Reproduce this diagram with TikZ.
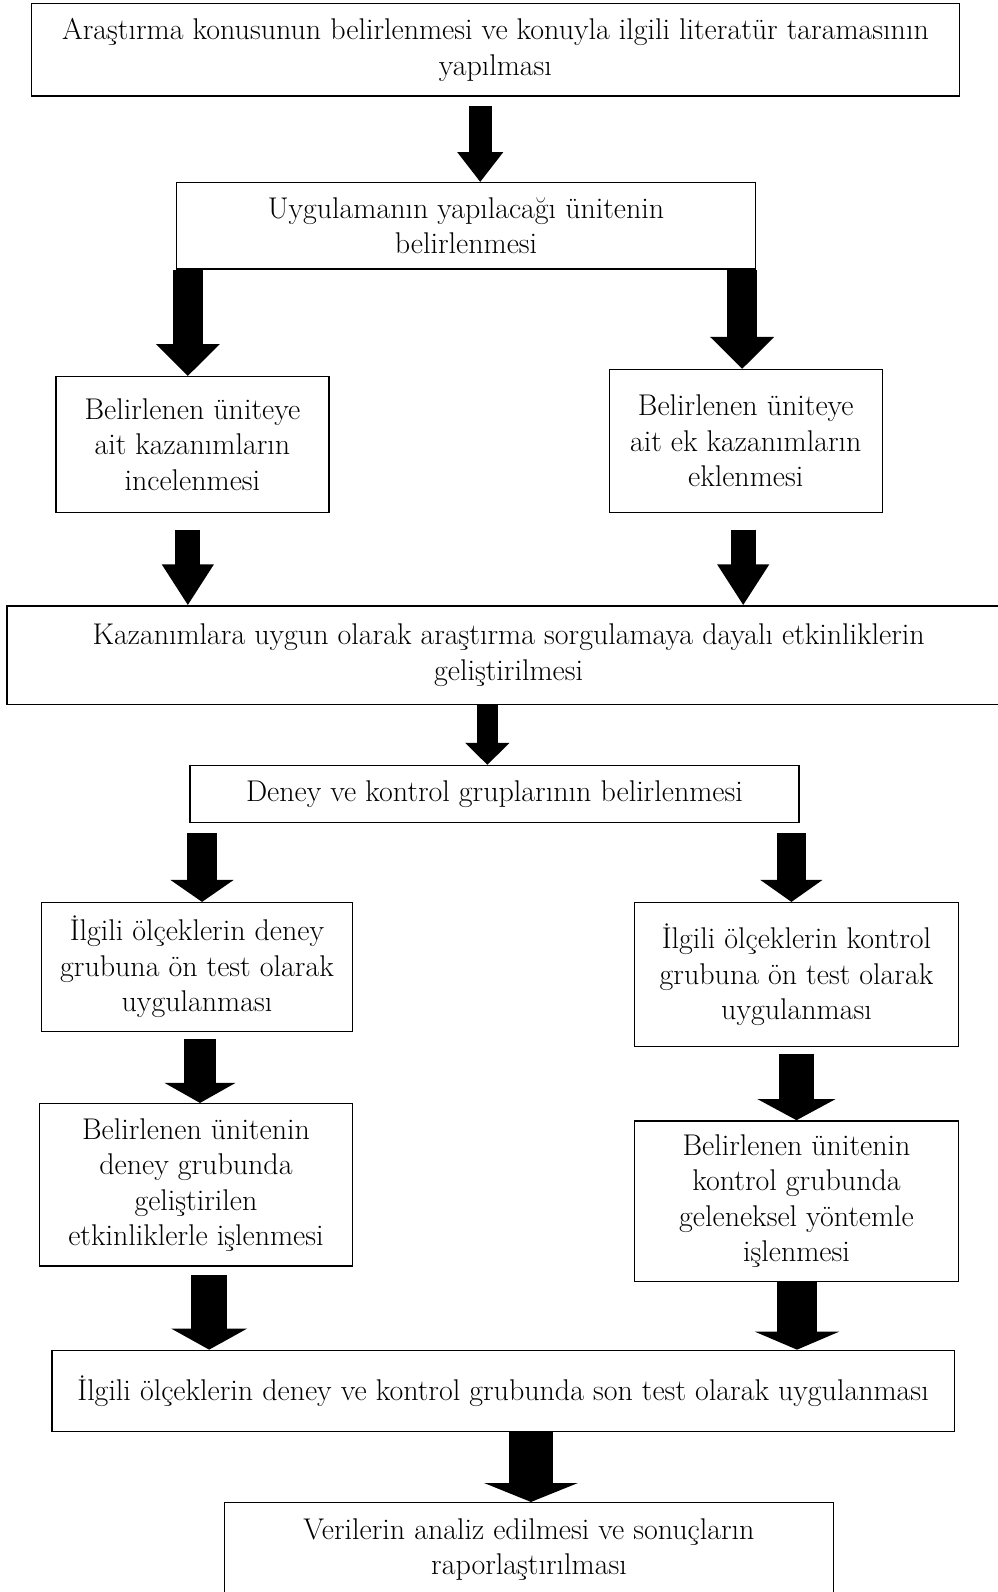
\documentclass[tikz,border=0pt]{standalone}
\usetikzlibrary{arrows.meta}
\usetikzlibrary{calc}

\begin{document}
\begin{tikzpicture}[x=0.02cm, y=-0.02cm,
    kutu/.style={draw, thick, align=center, inner sep=0pt, font=\fontsize{16.8}{19.9}\selectfont},
    ok/.style n args={3}{line width=#1pt, -{Triangle[width=#2pt, length=#3pt]}}]
        \useasboundingbox (0,0) rectangle (982,1568);
        \node[kutu, minimum width=18.28cm, minimum height=1.82cm] (konu) at (488,49) {Araştırma konusunun belirlenmesi ve konuyla ilgili literatür taramasının\\yapılması};
        \node[kutu, minimum width=11.4cm, minimum height=1.7cm] (unite) at (459,222.5) {Uygulamanın yapılacağı ünitenin\\belirlenmesi};
        \node[kutu, minimum width=5.38cm, minimum height=2.68cm] (kazsol) at (189.5,438) {Belirlenen üniteye\\ait kazanımların\\incelenmesi};
        \node[kutu, minimum width=5.38cm, minimum height=2.82cm] (kazsag) at (734.5,434.5) {Belirlenen üniteye\\ait ek kazanımların\\eklenmesi};
        \node[kutu, minimum width=19.76cm, minimum height=1.94cm] (etkinlik) at (501,645.5) {Kazanımlara uygun olarak araştırma sorgulamaya dayalı etkinliklerin\\geliştirilmesi};
        \node[kutu, minimum width=12cm, minimum height=1.12cm] (grup) at (487,782) {Deney ve kontrol gruplarının belirlenmesi};
        \node[kutu, minimum width=6.12cm, minimum height=2.54cm] (ondeney) at (194,952.5) {İlgili ölçeklerin deney\\grubuna ön test olarak\\uygulanması};
        \node[kutu, minimum width=6.38cm, minimum height=2.84cm] (onkontrol) at (784.5,960) {İlgili ölçeklerin kontrol\\grubuna ön test olarak\\uygulanması};
        \node[kutu, minimum width=6.16cm, minimum height=3.2cm] (isdeney) at (193,1167) {Belirlenen ünitenin\\deney grubunda\\geliştirilen\\etkinliklerle işlenmesi};
        \node[kutu, minimum width=6.38cm, minimum height=3.16cm] (iskontrol) at (784.5,1183) {Belirlenen ünitenin\\kontrol grubunda\\geleneksel yöntemle\\işlenmesi};
        \node[kutu, minimum width=17.78cm, minimum height=1.6cm] (sontest) at (495.5,1370) {İlgili ölçeklerin deney ve kontrol grubunda son test olarak uygulanması};
        \node[kutu, minimum width=12cm, minimum height=1.84cm] (analiz) at (521,1526) {Verilerin analiz edilmesi ve sonuçların\\raporlaştırılması};

        % oklar
        \draw[ok={12.9}{24.7}{16.8}, shorten <=0.18cm] (konu.south -| 473,0) -- (unite.north -| 473,0);
        \draw[ok={16.8}{34.8}{17.9}] (unite.south -| 185,0) -- (kazsol.north -| 185,0);
        \draw[ok={16.8}{34.8}{17.9}] (unite.south -| 731,0) -- (kazsag.north -| 731,0);
        \draw[ok={14}{27.5}{23}, shorten <=0.32cm] (kazsol.south -| 185,0) -- (etkinlik.north -| 185,0);
        \draw[ok={14}{27.5}{23}, shorten <=0.32cm] (kazsag.south -| 732,0) -- (etkinlik.north -| 732,0);
        \draw[ok={11.8}{24.1}{12.3}] (etkinlik.south -| 480,0) -- (grup.north -| 480,0);
        \draw[ok={16.8}{34.8}{12.3}, shorten <=0.2cm] (grup.south -| 199,0) -- (ondeney.north -| 199,0);
        \draw[ok={16.3}{34.2}{12.3}, shorten <=0.2cm] (grup.south -| 779.5,0) -- (onkontrol.north -| 779.5,0);
        \draw[ok={17.9}{39.2}{11.2}, shorten <=0.14cm] (ondeney.south -| 197,0) -- (isdeney.north -| 197,0);
        \draw[ok={19.6}{43.2}{11.8}, shorten <=0.12cm] (onkontrol.south -| 784.5,0) -- (iskontrol.north -| 784.5,0);
        \draw[ok={20.2}{42}{11.8}, shorten <=0.16cm] (isdeney.south -| 206,0) -- (sontest.north -| 206,0);
        \draw[ok={22.4}{47}{10.1}] (iskontrol.south -| 785,0) -- (sontest.north -| 785,0);
        \draw[ok={24.7}{52.1}{10.6}] (sontest.south -| 523,0) -- (analiz.north -| 523,0);
\end{tikzpicture}
\end{document}
